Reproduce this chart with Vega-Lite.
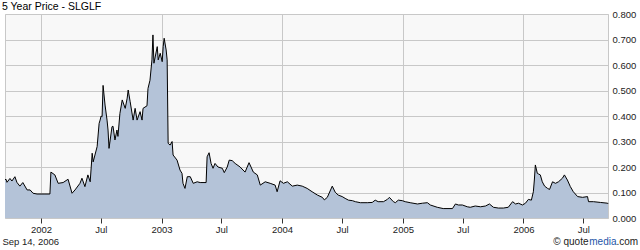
{
  "$schema": "https://vega.github.io/schema/vega-lite/v6.json",
  "width": 603,
  "height": 204,
  "autosize": "none",
  "padding": {"left": 5, "top": 14, "right": 32, "bottom": 32},
  "background": "white",
  "title": {"text": "5 Year Price - SLGLF", "anchor": "start", "frame": "group", "dx": -3, "offset": -3, "fontSize": 10.5, "fontWeight": "normal", "color": "#000000", "font": "Liberation Sans"},
  "config": {
    "font": "Liberation Sans",
    "view": {"fill": "#f8f8f8", "stroke": "#c8c8c8", "strokeWidth": 1}
  },
  "data": {"values": [
    {"date": "2001-09-14", "price": 0.15},
    {"date": "2001-09-17", "price": 0.152},
    {"date": "2001-09-20", "price": 0.14},
    {"date": "2001-09-29", "price": 0.155},
    {"date": "2001-10-05", "price": 0.145},
    {"date": "2001-10-14", "price": 0.162},
    {"date": "2001-10-20", "price": 0.14},
    {"date": "2001-10-29", "price": 0.125},
    {"date": "2001-11-07", "price": 0.139},
    {"date": "2001-11-20", "price": 0.11},
    {"date": "2001-11-29", "price": 0.11},
    {"date": "2001-12-08", "price": 0.097},
    {"date": "2001-12-20", "price": 0.094},
    {"date": "2002-01-13", "price": 0.094},
    {"date": "2002-01-28", "price": 0.094},
    {"date": "2002-01-31", "price": 0.18},
    {"date": "2002-02-12", "price": 0.169},
    {"date": "2002-02-22", "price": 0.136},
    {"date": "2002-03-09", "price": 0.139},
    {"date": "2002-03-24", "price": 0.152},
    {"date": "2002-04-05", "price": 0.097},
    {"date": "2002-04-14", "price": 0.11},
    {"date": "2002-04-29", "price": 0.136},
    {"date": "2002-05-05", "price": 0.156},
    {"date": "2002-05-14", "price": 0.123},
    {"date": "2002-05-23", "price": 0.169},
    {"date": "2002-05-30", "price": 0.142},
    {"date": "2002-06-05", "price": 0.254},
    {"date": "2002-06-08", "price": 0.22},
    {"date": "2002-06-20", "price": 0.28},
    {"date": "2002-06-26", "price": 0.371},
    {"date": "2002-06-29", "price": 0.384},
    {"date": "2002-07-02", "price": 0.4},
    {"date": "2002-07-05", "price": 0.397},
    {"date": "2002-07-08", "price": 0.52},
    {"date": "2002-07-14", "price": 0.443},
    {"date": "2002-07-20", "price": 0.384},
    {"date": "2002-07-23", "price": 0.345},
    {"date": "2002-07-26", "price": 0.273},
    {"date": "2002-08-04", "price": 0.358},
    {"date": "2002-08-07", "price": 0.36},
    {"date": "2002-08-13", "price": 0.306},
    {"date": "2002-08-19", "price": 0.345},
    {"date": "2002-08-22", "price": 0.32},
    {"date": "2002-08-28", "price": 0.41},
    {"date": "2002-09-04", "price": 0.463},
    {"date": "2002-09-13", "price": 0.43},
    {"date": "2002-09-19", "price": 0.47},
    {"date": "2002-09-22", "price": 0.502},
    {"date": "2002-09-28", "price": 0.456},
    {"date": "2002-10-07", "price": 0.384},
    {"date": "2002-10-13", "price": 0.43},
    {"date": "2002-10-19", "price": 0.384},
    {"date": "2002-10-28", "price": 0.417},
    {"date": "2002-11-03", "price": 0.384},
    {"date": "2002-11-06", "price": 0.43},
    {"date": "2002-11-18", "price": 0.44},
    {"date": "2002-11-21", "price": 0.508},
    {"date": "2002-11-27", "price": 0.54},
    {"date": "2002-12-03", "price": 0.62},
    {"date": "2002-12-06", "price": 0.718},
    {"date": "2002-12-09", "price": 0.607},
    {"date": "2002-12-19", "price": 0.672},
    {"date": "2002-12-22", "price": 0.62},
    {"date": "2002-12-28", "price": 0.646},
    {"date": "2003-01-03", "price": 0.613},
    {"date": "2003-01-06", "price": 0.672},
    {"date": "2003-01-09", "price": 0.705},
    {"date": "2003-01-15", "price": 0.659},
    {"date": "2003-01-18", "price": 0.62},
    {"date": "2003-01-21", "price": 0.293},
    {"date": "2003-01-27", "price": 0.286},
    {"date": "2003-02-02", "price": 0.3},
    {"date": "2003-02-05", "price": 0.247},
    {"date": "2003-02-17", "price": 0.227},
    {"date": "2003-02-26", "price": 0.188},
    {"date": "2003-03-04", "price": 0.175},
    {"date": "2003-03-07", "price": 0.136},
    {"date": "2003-03-13", "price": 0.116},
    {"date": "2003-03-20", "price": 0.162},
    {"date": "2003-03-29", "price": 0.162},
    {"date": "2003-04-07", "price": 0.136},
    {"date": "2003-04-19", "price": 0.142},
    {"date": "2003-04-28", "price": 0.139},
    {"date": "2003-05-16", "price": 0.139},
    {"date": "2003-05-19", "price": 0.24},
    {"date": "2003-05-25", "price": 0.256},
    {"date": "2003-05-31", "price": 0.214},
    {"date": "2003-06-06", "price": 0.195},
    {"date": "2003-06-12", "price": 0.214},
    {"date": "2003-06-21", "price": 0.2},
    {"date": "2003-07-04", "price": 0.195},
    {"date": "2003-07-10", "price": 0.178},
    {"date": "2003-07-19", "price": 0.2},
    {"date": "2003-07-25", "price": 0.227},
    {"date": "2003-08-03", "price": 0.225},
    {"date": "2003-08-12", "price": 0.214},
    {"date": "2003-08-27", "price": 0.2},
    {"date": "2003-09-11", "price": 0.18},
    {"date": "2003-09-23", "price": 0.217},
    {"date": "2003-10-06", "price": 0.18},
    {"date": "2003-10-18", "price": 0.169},
    {"date": "2003-10-27", "price": 0.129},
    {"date": "2003-11-11", "price": 0.142},
    {"date": "2003-11-26", "price": 0.136},
    {"date": "2003-12-11", "price": 0.129},
    {"date": "2003-12-17", "price": 0.103},
    {"date": "2003-12-26", "price": 0.146},
    {"date": "2004-01-05", "price": 0.136},
    {"date": "2004-01-17", "price": 0.142},
    {"date": "2004-02-01", "price": 0.125},
    {"date": "2004-02-16", "price": 0.129},
    {"date": "2004-03-02", "price": 0.125},
    {"date": "2004-03-17", "price": 0.116},
    {"date": "2004-04-01", "price": 0.103},
    {"date": "2004-04-17", "price": 0.09},
    {"date": "2004-05-02", "price": 0.081},
    {"date": "2004-05-08", "price": 0.071},
    {"date": "2004-05-17", "price": 0.081},
    {"date": "2004-06-01", "price": 0.125},
    {"date": "2004-06-10", "price": 0.101},
    {"date": "2004-06-19", "price": 0.09},
    {"date": "2004-07-01", "price": 0.084},
    {"date": "2004-07-10", "price": 0.077},
    {"date": "2004-07-20", "price": 0.07},
    {"date": "2004-08-01", "price": 0.068},
    {"date": "2004-08-10", "price": 0.064},
    {"date": "2004-08-25", "price": 0.06},
    {"date": "2004-09-15", "price": 0.06},
    {"date": "2004-09-30", "price": 0.061},
    {"date": "2004-10-09", "price": 0.07},
    {"date": "2004-10-18", "price": 0.064},
    {"date": "2004-11-03", "price": 0.064},
    {"date": "2004-11-15", "price": 0.073},
    {"date": "2004-11-21", "price": 0.081},
    {"date": "2004-12-03", "price": 0.064},
    {"date": "2004-12-09", "price": 0.06},
    {"date": "2004-12-18", "price": 0.07},
    {"date": "2004-12-30", "price": 0.068},
    {"date": "2005-01-08", "price": 0.064},
    {"date": "2005-01-23", "price": 0.06},
    {"date": "2005-02-14", "price": 0.055},
    {"date": "2005-03-01", "price": 0.058},
    {"date": "2005-03-16", "price": 0.06},
    {"date": "2005-03-25", "price": 0.051},
    {"date": "2005-04-15", "price": 0.042},
    {"date": "2005-05-03", "price": 0.037},
    {"date": "2005-05-31", "price": 0.037},
    {"date": "2005-06-09", "price": 0.055},
    {"date": "2005-06-18", "price": 0.051},
    {"date": "2005-06-30", "price": 0.051},
    {"date": "2005-07-15", "price": 0.044},
    {"date": "2005-07-24", "price": 0.042},
    {"date": "2005-08-08", "price": 0.047},
    {"date": "2005-08-24", "price": 0.044},
    {"date": "2005-09-08", "price": 0.047},
    {"date": "2005-09-20", "price": 0.055},
    {"date": "2005-10-02", "price": 0.042},
    {"date": "2005-10-17", "price": 0.039},
    {"date": "2005-11-01", "price": 0.039},
    {"date": "2005-11-16", "price": 0.042},
    {"date": "2005-11-29", "price": 0.064},
    {"date": "2005-12-08", "price": 0.055},
    {"date": "2005-12-17", "price": 0.058},
    {"date": "2005-12-29", "price": 0.051},
    {"date": "2006-01-07", "price": 0.058},
    {"date": "2006-01-16", "price": 0.073},
    {"date": "2006-01-25", "price": 0.07},
    {"date": "2006-01-31", "price": 0.103},
    {"date": "2006-02-03", "price": 0.149},
    {"date": "2006-02-06", "price": 0.208},
    {"date": "2006-02-12", "price": 0.175},
    {"date": "2006-02-15", "price": 0.173},
    {"date": "2006-02-21", "price": 0.169},
    {"date": "2006-02-27", "price": 0.142},
    {"date": "2006-03-06", "price": 0.125},
    {"date": "2006-03-15", "price": 0.116},
    {"date": "2006-03-21", "price": 0.112},
    {"date": "2006-03-30", "price": 0.142},
    {"date": "2006-04-08", "price": 0.136},
    {"date": "2006-04-17", "price": 0.142},
    {"date": "2006-04-29", "price": 0.156},
    {"date": "2006-05-05", "price": 0.169},
    {"date": "2006-05-14", "price": 0.149},
    {"date": "2006-05-23", "price": 0.123},
    {"date": "2006-06-01", "price": 0.103},
    {"date": "2006-06-14", "price": 0.084},
    {"date": "2006-06-29", "price": 0.081},
    {"date": "2006-07-14", "price": 0.084},
    {"date": "2006-07-17", "price": 0.064},
    {"date": "2006-08-01", "price": 0.064},
    {"date": "2006-08-22", "price": 0.061},
    {"date": "2006-09-13", "price": 0.058},
    {"date": "2006-09-14", "price": 0.055}
  ]},
  "resolve": {"axis": {"x": "independent", "y": "independent"}},
  "layer": [
    {
      "mark": {"type": "area", "color": "#b4c3d8", "opacity": 1},
      "encoding": {
        "x": {
          "field": "date", "type": "temporal",
          "scale": {"type": "utc", "domain": [{"year": 2001, "month": 9, "date": 14, "utc": true}, {"year": 2006, "month": 9, "date": 14, "utc": true}]},
          "axis": {
            "orient": "bottom",
            "values": [
              {"year": 2002, "month": 1, "date": 1, "utc": true},
              {"year": 2002, "month": 7, "date": 1, "utc": true},
              {"year": 2003, "month": 1, "date": 1, "utc": true},
              {"year": 2003, "month": 7, "date": 1, "utc": true},
              {"year": 2004, "month": 1, "date": 1, "utc": true},
              {"year": 2004, "month": 7, "date": 1, "utc": true},
              {"year": 2005, "month": 1, "date": 1, "utc": true},
              {"year": 2005, "month": 7, "date": 1, "utc": true},
              {"year": 2006, "month": 1, "date": 1, "utc": true},
              {"year": 2006, "month": 7, "date": 1, "utc": true}
            ],
            "labelExpr": "utcmonth(datum.value) == 0 ? utcFormat(datum.value, '%Y') : 'Jul'",
            "domain": false,
            "ticks": true, "tickSize": 5, "tickColor": "#333333",
            "labelPadding": 1, "labelFontSize": 9.5, "labelColor": "#222222", "labelFlush": false,
            "grid": true, "gridColor": "#c8c8c8",
            "gridOpacity": {"condition": {"test": "utcmonth(datum.value) == 0", "value": 1}, "value": 0},
            "title": "Sep 14, 2006", "titleX": -3, "titleY": 26, "titleAlign": "left", "titleAnchor": null,
            "titleBaseline": "alphabetic", "titleFontSize": 9.5, "titleFontWeight": "normal", "titleColor": "#222222"
          }
        },
        "y": {
          "field": "price", "type": "quantitative",
          "scale": {"domain": [0, 0.8], "nice": false, "zero": true},
          "axis": {
            "orient": "right",
            "values": [0, 0.1, 0.2, 0.3, 0.4, 0.5, 0.6, 0.7, 0.8],
            "format": ".3f",
            "domain": false, "ticks": false,
            "labelPadding": 4, "labelFontSize": 9.5, "labelColor": "#222222",
            "grid": true, "gridColor": "#c8c8c8", "gridOpacity": 1,
            "title": "© quote", "titleX": -20, "titleY": 230, "titleAngle": 0, "titleAlign": "right",
            "titleBaseline": "alphabetic", "titleFontSize": 10, "titleFontWeight": "normal", "titleColor": "#222222"
          }
        }
      }
    },
    {
      "mark": {"type": "line", "color": "#000000", "strokeWidth": 1},
      "encoding": {
        "x": {
          "field": "date", "type": "temporal",
          "axis": {
            "orient": "top", "labels": false, "ticks": false, "domain": false, "grid": false,
            "title": "media", "titleX": 611, "titleY": 230, "titleAngle": 0, "titleAlign": "right", "titleAnchor": null,
            "titleBaseline": "alphabetic", "titleFontSize": 10, "titleFontWeight": "normal", "titleColor": "#2456a8"
          }
        },
        "y": {
          "field": "price", "type": "quantitative",
          "axis": {
            "orient": "left", "labels": false, "ticks": false, "domain": false, "grid": false,
            "title": ".com", "titleX": 611, "titleY": 230, "titleAngle": 0, "titleAlign": "left", "titleAnchor": null,
            "titleBaseline": "alphabetic", "titleFontSize": 10, "titleFontWeight": "normal", "titleColor": "#222222"
          }
        }
      }
    }
  ]
}
